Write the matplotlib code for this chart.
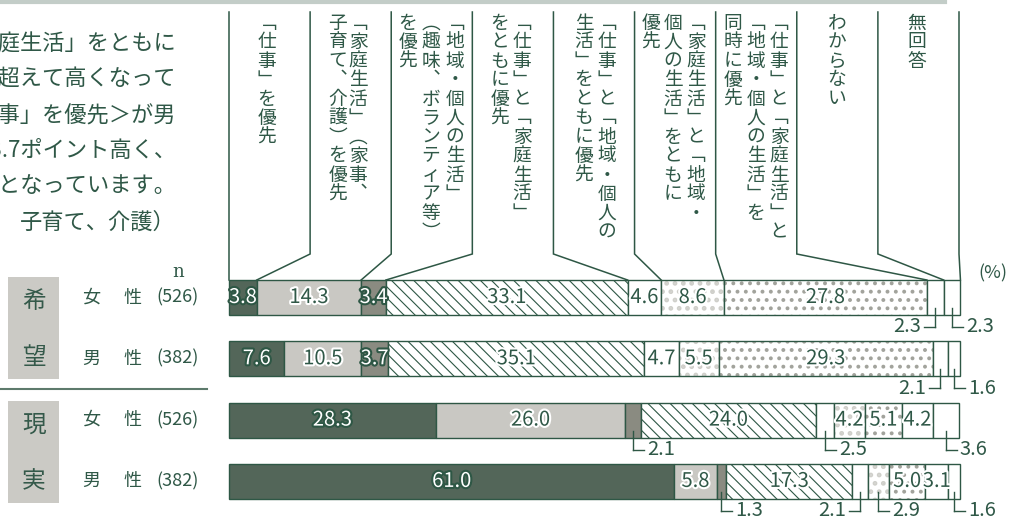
import matplotlib
matplotlib.use("Agg")
import matplotlib.pyplot as plt
import matplotlib.patheffects as pe
from matplotlib.patches import Rectangle
import numpy as np

plt.rcParams["font.family"] = ["Noto Sans CJK JP", "DejaVu Sans"]
plt.rcParams["hatch.linewidth"] = 0.8

# ---- data ----
categories = [
    "「仕事」を優先",
    "「家庭生活」（家事、子育て、介護）を優先",
    "「地域・個人の生活」（趣味、ボランティア等）を優先",
    "「仕事」と「家庭生活」をともに優先",
    "「仕事」と「地域・個人の生活」をともに優先",
    "「家庭生活」と「地域・個人の生活」をともに優先",
    "「仕事」と「家庭生活」と「地域・個人の生活」を同時に優先",
    "わからない",
    "無回答",
]
groups = ["希望", "現実"]
sexes = ["女", "男"]
n_counts = [526, 382, 526, 382]
hope_female = [3.8, 14.3, 3.4, 33.1, 4.6, 8.6, 27.8, 2.3, 2.3]
hope_male = [7.6, 10.5, 3.7, 35.1, 4.7, 5.5, 29.3, 2.1, 1.6]
real_female = [28.3, 26.0, 2.1, 24.0, 2.5, 4.2, 5.1, 4.2, 3.6]
real_male = [61.0, 5.8, 1.3, 17.3, 2.1, 2.9, 5.0, 3.1, 1.6]
rows = [hope_female, hope_male, real_female, real_male]

# small values labelled below the bar with a leader (L: text left, R: text right)
outside = [{7: "L", 8: "R"}, {7: "L", 8: "R"},
           {2: "R", 4: "R", 8: "R"}, {2: "R", 4: "L", 5: "R", 8: "R"}]

# header columns (vertical writing), right to left inside each box
header_cols = [
    [(267, "「仕事」を優先")],
    [(358, "「家庭生活」（家事、"), (338, "子育て、介護）を優先")],
    [(455, "「地域・個人の生活」"), (431, "（趣味、ボランティア等）"), (408, "を優先")],
    [(522, "「仕事」と「家庭生活」"), (500, "をともに優先")],
    [(607, "「仕事」と「地域・個人の"), (584, "生活」をともに優先")],
    [(696, "「家庭生活」と「地域・"), (673, "個人の生活」をともに"), (651, "優先")],
    [(779, "「仕事」と「家庭生活」と"), (756, "「地域・個人の生活」を"), (733, "同時に優先")],
    [(837, "わからない")],
    [(917, "無回答")],
]

side_text = ["「仕事」と「家庭生活」をともに", "割合が希望を超えて高くなって",
             "おり、＜「仕事」を優先＞が男", "性で女性より3.7ポイント高く、",
             "大きな差となっています。", "子育て、介護）"]

# ---- style ----
DG = "#2e5745"
TXT = "#2f5847"
styles = [
    dict(face="#536659", hatch=None, hc=None, hl=None, tc="white", sc=DG),
    dict(face="#c9c8c3", hatch=None, hc=None, hl=None, tc=TXT, sc="white"),
    dict(face="#8a8b81", hatch=None, hc=None, hl=None, tc="white", sc=DG),
    dict(face="white", hatch="\\\\\\", hc=DG, hl=0.8, tc=TXT, sc="white"),
    dict(face="white", hatch=None, hc=None, hl=None, tc=TXT, sc="white"),
    dict(face="white", hatch="..", hc="#cfcfca", hl=2.2, tc=TXT, sc="white"),
    dict(face="white", hatch="..", hc="#a2a39c", hl=1.6, tc=TXT, sc="white"),
    dict(face="white", hatch=None, hc=None, hl=None, tc=TXT, sc="white"),
    dict(face="white", hatch=None, hc=None, hl=None, tc=TXT, sc="white"),
]

W, H = 1019, 519
fig = plt.figure(figsize=(W / 100, H / 100), dpi=100)
bg = fig.add_axes([0, 0, 1, 1])
bg.set_xlim(0, W)
bg.set_ylim(H, 0)
bg.axis("off")

x0, x1 = 229, 959
ax = fig.add_axes([x0 / W, 0, (x1 - x0) / W, 1])
ax.set_xlim(0, 100)
ax.set_ylim(H, 0)
ax.axis("off")
ppu = (x1 - x0) / 100.0  # pixels per percent

ys = 297.5 + 61.3 * np.arange(len(rows))
bh = 35

for i, (vals, y) in enumerate(zip(rows, ys)):
    lefts = np.concatenate([[0], np.cumsum(vals)[:-1]])
    for j, (v, l) in enumerate(zip(vals, lefts)):
        st = styles[j]
        if st["hatch"]:
            with plt.rc_context({"hatch.linewidth": st["hl"]}):
                bars = ax.barh(y, v, left=l, height=bh, color=st["face"],
                               edgecolor=st["hc"], hatch=st["hatch"], linewidth=0,
                               clip_on=False)
            for b in bars:
                if hasattr(b, "set_hatch_linewidth"):
                    b.set_hatch_linewidth(st["hl"])
            ax.barh(y, v, left=l, height=bh, color="none", edgecolor=DG,
                    linewidth=1, clip_on=False)
        else:
            ax.barh(y, v, left=l, height=bh, color=st["face"], edgecolor=DG,
                    linewidth=1, clip_on=False)
        cx = l + v / 2
        if j in outside[i]:
            ya = y + bh * 0.3
            yb = y + bh / 2 + 12
            arm = 11 / ppu
            ax.plot([cx, cx], [ya, yb], color=DG, lw=1, clip_on=False)
            if outside[i][j] == "R":
                ax.plot([cx, cx + arm], [yb, yb], color=DG, lw=1, clip_on=False)
                ax.text(cx + arm + 3 / ppu, yb, f"{v:.1f}", ha="left", va="center",
                        fontsize=14.5, color=TXT, clip_on=False)
            else:
                ax.plot([cx, cx - arm], [yb, yb], color=DG, lw=1, clip_on=False)
                ax.text(cx - arm - 3 / ppu, yb, f"{v:.1f}", ha="right", va="center",
                        fontsize=14.5, color=TXT, clip_on=False)
        else:
            ax.text(cx, y, f"{v:.1f}", ha="center", va="center", fontsize=14.5,
                    color=st["tc"], clip_on=False,
                    path_effects=[pe.withStroke(linewidth=3, foreground=st["sc"])])

# header frame lines
bounds = np.concatenate([[0], np.cumsum(hope_female)])
for k in range(len(categories) + 1):
    xk = k * 100 / len(categories)
    ax.plot([xk, xk, bounds[k]], [12, 254, ys[0] - bh / 2], color=DG, lw=1.1,
            clip_on=False, solid_joinstyle="miter")

# header vertical text
vert = str.maketrans({"「": "\ufe41", "」": "\ufe42", "（": "\ufe35",
                      "）": "\ufe36", "、": "\ufe11"})
pitch = 19.0
for cols in header_cols:
    for cx, s in cols:
        for m, ch in enumerate(s.translate(vert)):
            bg.text(cx, 23 + m * pitch, ch, ha="center", va="center",
                    fontsize=13.5, color=TXT)

# top rule
bg.plot([0, 945], [1.5, 1.5], color="#c3cdc8", lw=3)

# side paragraph (cut at the left edge as in the source page)
for k, line in enumerate(side_text):
    bg.text(176, 43 + k * 35.8, line, ha="right", va="center", fontsize=16,
            color=TXT)

# group boxes and row labels
for g, label in enumerate(groups):
    top = 277 + g * 124
    bg.add_patch(Rectangle((8, top), 51, 102, color="#cbcac5", lw=0))
    bg.text(34, top + 24, label[0], ha="center", va="center", fontsize=17,
            color="#34594a")
    bg.text(34, top + 81, label[1], ha="center", va="center", fontsize=17,
            color="#34594a")
bg.plot([0, 207], [389, 389], color="#5d7a6c", lw=1.5)

for i, y in enumerate(ys):
    bg.text(91, y, sexes[i % 2], ha="center", va="center", fontsize=13, color=TXT)
    bg.text(132, y, "性", ha="center", va="center", fontsize=13, color=TXT)
    bg.text(178, y, f"({n_counts[i]})", ha="center", va="center", fontsize=13,
            color=TXT)
bg.text(178, 272, "n", ha="center", va="center", fontsize=13, color=TXT,
        family="DejaVu Serif")
bg.text(993, 273, "(%)", ha="center", va="center", fontsize=13, color=TXT)

fig.savefig("out.png", dpi=100)
